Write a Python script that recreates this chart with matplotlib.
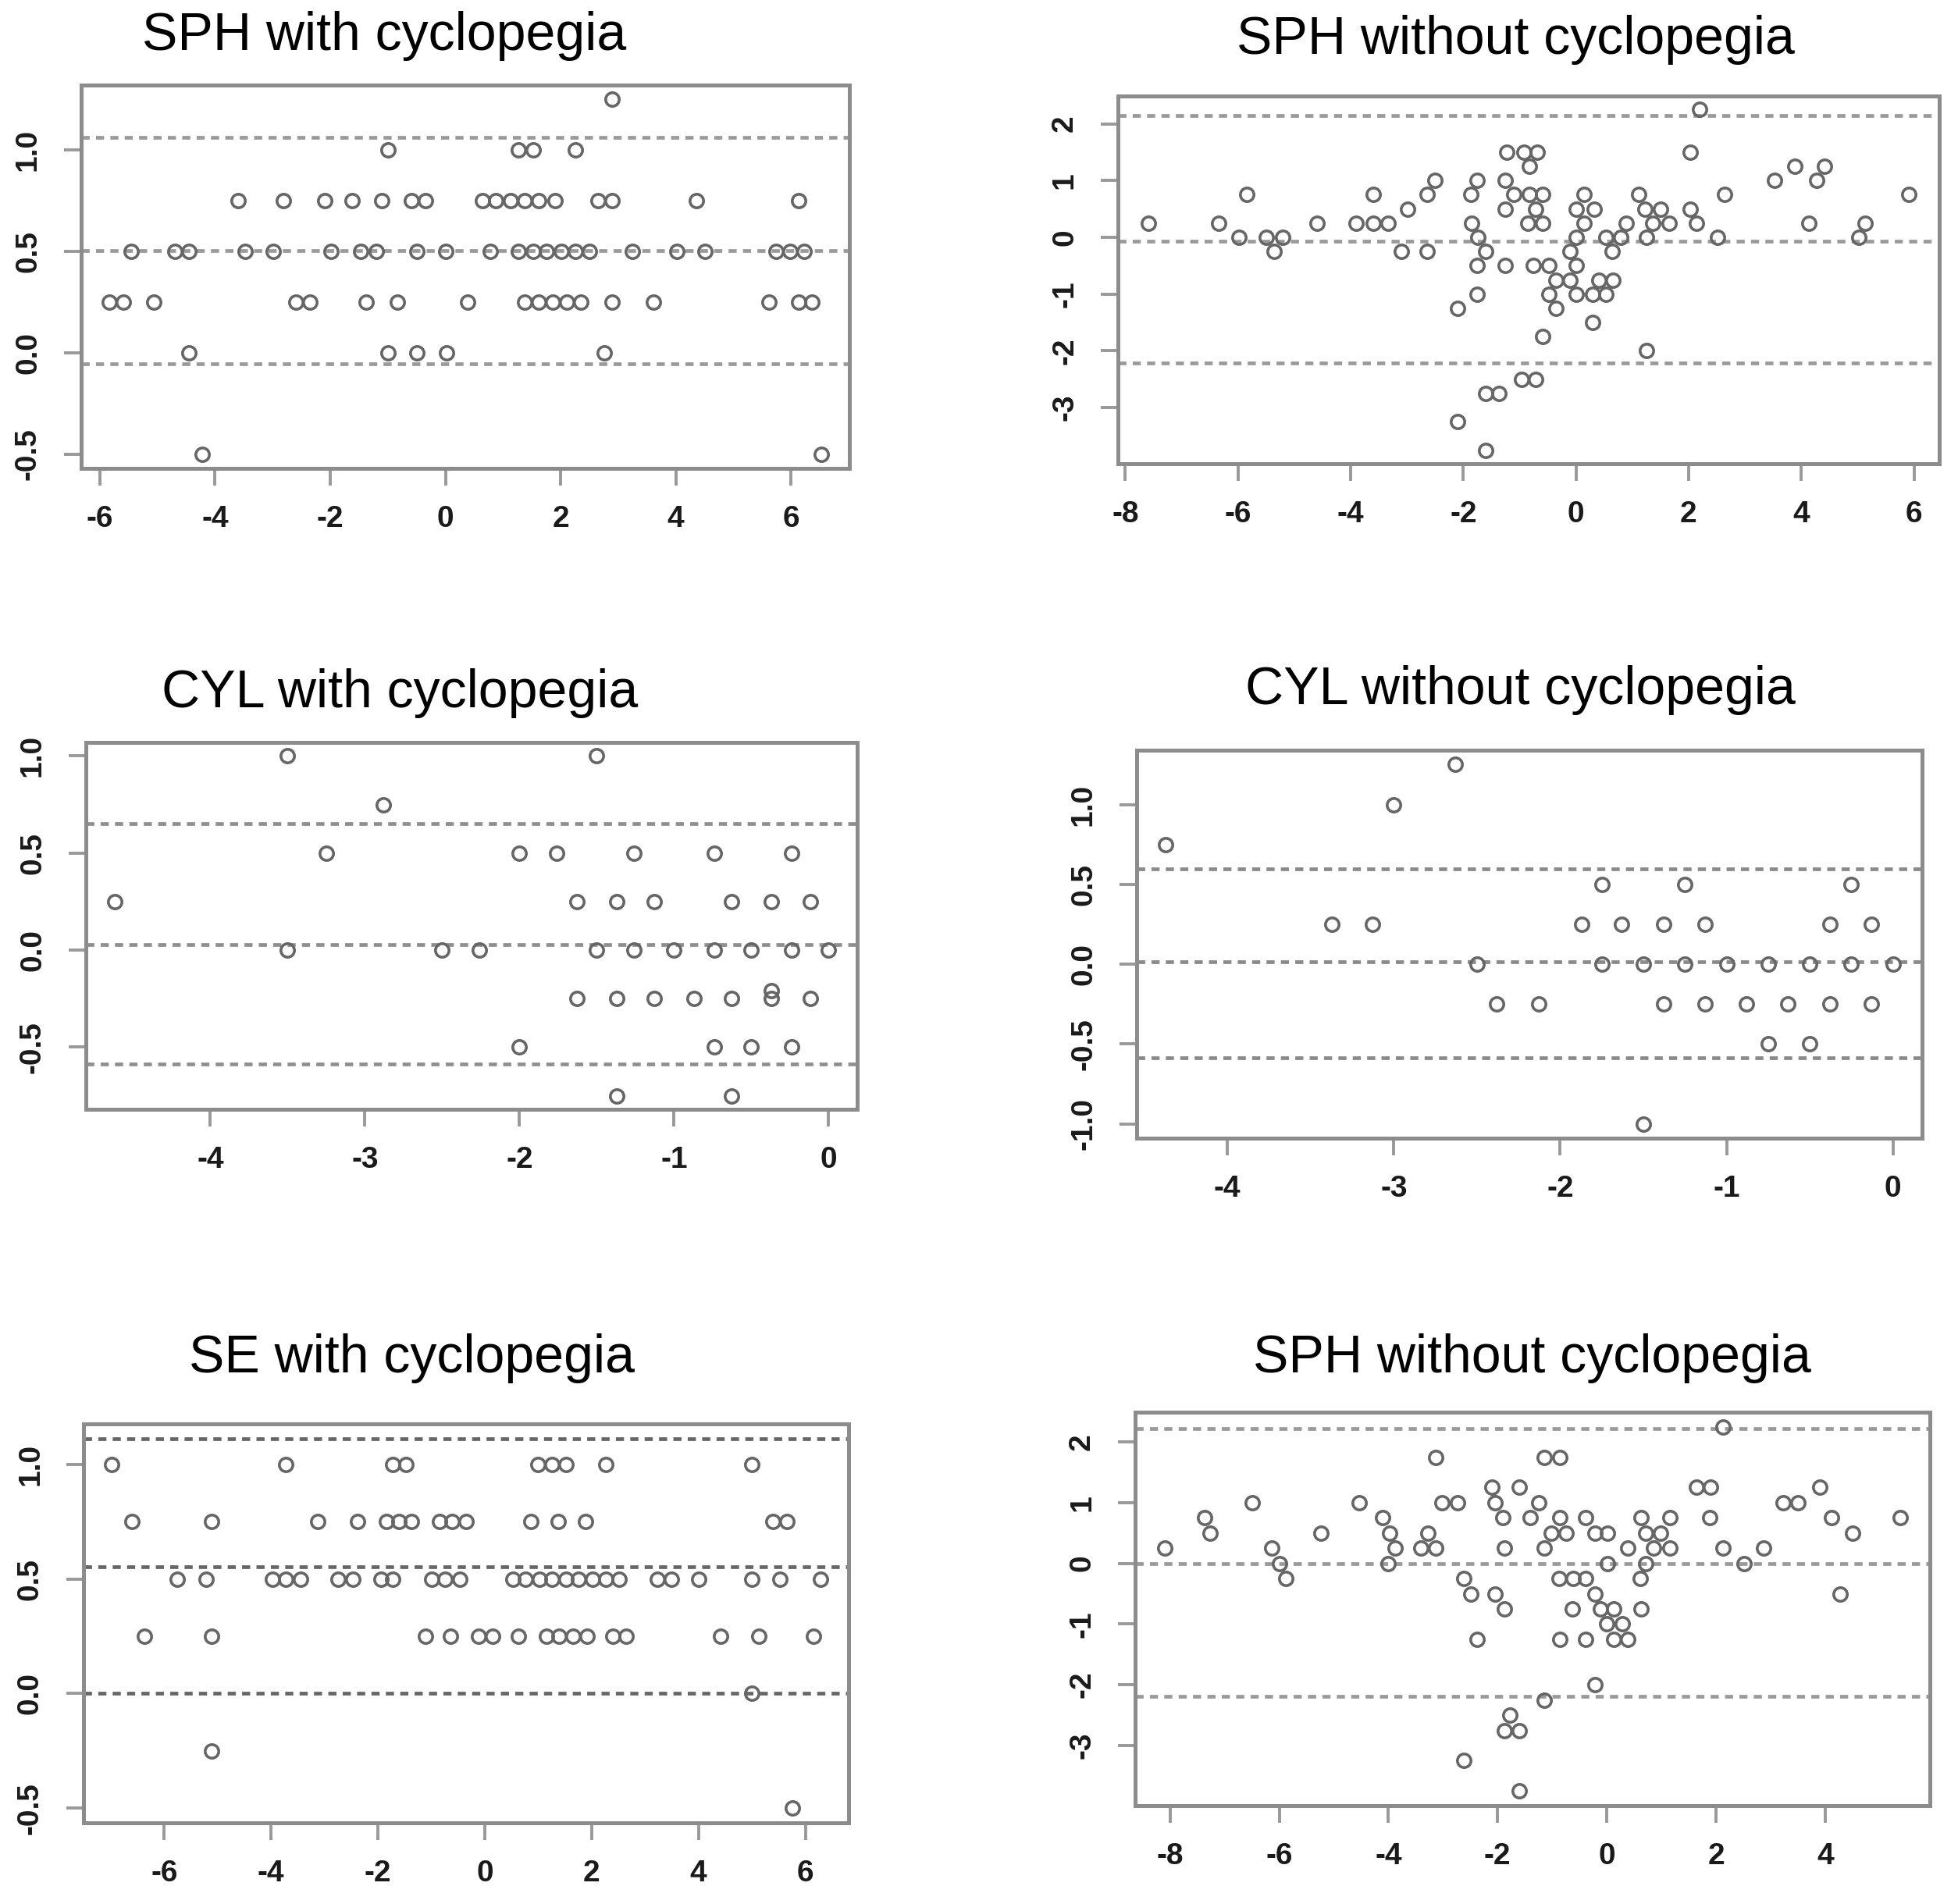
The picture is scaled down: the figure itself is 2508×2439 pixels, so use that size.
import numpy as np
import matplotlib
matplotlib.use("Agg")
import matplotlib.pyplot as plt

plt.rcParams['font.family'] = ['Liberation Sans', 'DejaVu Sans']
plt.rcParams['axes.unicode_minus'] = False

W, H = 2508, 2439

# ---- data, points grouped by their difference level ----
sph_cyc_levels = [1.25, 1.0, 0.75, 0.5, 0.25, 0.0, -0.5]
sph_cyc_rows = [
    [2.9],
    [-1.0, 1.27, 1.52, 2.25],
    [-3.6, -2.82, -2.1, -1.62, -1.1, -0.59, -0.34, 0.64, 0.88, 1.13, 1.37, 1.62, 1.91, 2.65, 2.9, 4.36, 6.13],
    [-5.46, -4.7, -4.46, -3.48, -2.99, -1.98, -1.47, -1.2, -0.49, 0.0, 0.78, 1.27, 1.52, 1.76, 2.01, 2.25, 2.5,
     3.24, 4.02, 4.51, 5.74, 5.98, 6.23],
    [-5.83, -5.59, -5.07, -2.6, -2.35, -1.37, -0.83, 0.39, 1.37, 1.62, 1.86, 2.11, 2.35, 2.9, 3.61, 5.62, 6.13, 6.37],
    [-4.46, -1.0, -0.49, 0.02, 2.76],
    [-4.22, 6.52],
]
sph_cyc_lines = [1.064, 0.504, -0.056]

sph_nocyc_levels = [2.25, 1.5, 1.25, 1.0, 0.75, 0.5, 0.25, 0.0, -0.25, -0.5, -0.75, -1.0, -1.25, -1.5, -1.75,
                    -2.0, -2.5, -2.75, -3.25, -3.75]
sph_nocyc_rows = [
    [2.19],
    [-1.23, -0.93, -0.69, 2.03],
    [-0.83, 3.88, 4.41],
    [-2.51, -1.76, -1.25, 3.52, 4.27],
    [-5.84, -3.6, -2.64, -1.87, -1.10, -0.83, -0.59, 0.14, 1.12, 2.64, 5.91],
    [-2.99, -1.25, -0.72, 0.0, 0.32, 1.23, 1.5, 2.03],
    [-7.59, -6.34, -4.59, -3.9, -3.6, -3.34, -1.85, -0.85, -0.59, 0.14, 0.89, 1.36, 1.66, 2.14, 4.13, 5.13],
    [-5.98, -5.5, -5.2, -1.74, 0.0, 0.53, 0.8, 1.25, 2.51, 5.02],
    [-5.36, -3.1, -2.64, -1.6, -0.11, 0.64],
    [-1.76, -1.25, -0.75, -0.48, 0.0],
    [-0.35, -0.11, 0.41, 0.66],
    [-1.76, -0.48, 0.0, 0.29, 0.53],
    [-2.1, -0.35],
    [0.29],
    [-0.59],
    [1.25],
    [-0.96, -0.72],
    [-1.6, -1.36],
    [-2.1],
    [-1.6],
]
sph_nocyc_lines = [2.14, -0.07, -2.22]

cyl_cyc_levels = [1.0, 0.75, 0.5, 0.25, 0.0, -0.21, -0.25, -0.5, -0.75]
cyl_cyc_rows = [
    [-3.5, -1.5],
    [-2.88],
    [-3.25, -2.0, -1.76, -1.26, -0.74, -0.24],
    [-4.62, -1.63, -1.37, -1.13, -0.63, -0.37, -0.12],
    [-3.5, -2.5, -2.26, -1.5, -1.26, -1.0, -0.74, -0.5, -0.24, 0.0],
    [-0.37],
    [-1.63, -1.37, -1.13, -0.87, -0.63, -0.37, -0.12],
    [-2.0, -0.74, -0.5, -0.24],
    [-1.37, -0.63],
]
cyl_cyc_lines = [0.652, 0.029, -0.587]

cyl_nocyc_levels = [1.25, 1.0, 0.75, 0.5, 0.25, 0.0, -0.25, -0.5, -1.0]
cyl_nocyc_rows = [
    [-2.63],
    [-3.0],
    [-4.37],
    [-1.75, -1.25, -0.25],
    [-3.37, -3.13, -1.87, -1.63, -1.38, -1.13, -0.38, -0.13],
    [-2.5, -1.75, -1.5, -1.25, -1.0, -0.75, -0.5, -0.25, 0.0],
    [-2.38, -2.13, -1.38, -1.13, -0.88, -0.63, -0.38, -0.13],
    [-0.75, -0.5],
    [-1.5],
]
cyl_nocyc_lines = [0.597, 0.014, -0.585]

se_cyc_levels = [1.0, 0.75, 0.5, 0.25, 0.0, -0.25, -0.5]
se_cyc_rows = [
    [-6.98, -3.72, -1.72, -1.48, 1.0, 1.26, 1.52, 2.26, 5.0],
    [-6.61, -5.11, -3.12, -2.38, -1.84, -1.61, -1.37, -0.85, -0.61, -0.35, 0.86, 1.37, 1.88, 5.39, 5.65],
    [-5.76, -5.21, -3.98, -3.72, -3.45, -2.74, -2.47, -1.95, -1.72, -1.0, -0.74, -0.47, 0.53, 0.76, 1.02, 1.26,
     1.52, 1.76, 2.02, 2.26, 2.52, 3.23, 3.49, 4.0, 5.0, 5.52, 6.28],
    [-6.37, -5.11, -1.11, -0.64, -0.12, 0.15, 0.63, 1.15, 1.39, 1.65, 1.92, 2.39, 2.65, 4.41, 5.13, 6.15],
    [5.0],
    [-5.11],
    [5.76],
]
se_cyc_lines = [1.112, 0.554, 0.0]

sph_nocyc2_levels = [2.25, 1.75, 1.25, 1.0, 0.75, 0.5, 0.25, 0.0, -0.25, -0.5, -0.75, -1.0, -1.25, -2.0,
                     -2.25, -2.5, -2.75, -3.25, -3.75]
sph_nocyc2_rows = [
    [2.13],
    [-3.13, -1.14, -0.86],
    [-2.11, -1.6, 1.64, 1.9, 3.9],
    [-6.49, -4.53, -3.02, -2.73, -2.05, -1.24, 3.23, 3.5],
    [-7.37, -4.11, -1.91, -1.41, -0.86, -0.39, 0.63, 1.16, 1.88, 4.12, 5.38],
    [-7.26, -5.23, -3.98, -3.28, -1.02, -0.75, -0.22, 0.02, 0.72, 0.99, 4.5],
    [-8.1, -6.13, -3.87, -3.4, -3.13, -1.88, -1.14, 0.39, 0.85, 1.16, 2.13, 2.87],
    [-5.99, -4.0, 0.02, 0.72, 2.52],
    [-5.88, -2.62, -0.88, -0.61, -0.39, 0.61],
    [-2.49, -2.05, -0.22, 4.28],
    [-1.88, -0.63, -0.11, 0.13, 0.63],
    [0.0, 0.28],
    [-2.38, -0.86, -0.39, 0.13, 0.39],
    [-0.22],
    [-1.14],
    [-1.77],
    [-1.88, -1.6],
    [-2.62],
    [-1.6],
]
sph_nocyc2_lines = [2.22, 0.0, -2.19]

titles = ["SPH with cyclopegia", "SPH without cyclopegia", "CYL with cyclopegia",
          "CYL without cyclopegia", "SE with cyclopegia", "SPH without cyclopegia"]
x_ticks = [[-6, -4, -2, 0, 2, 4, 6], [-8, -6, -4, -2, 0, 2, 4, 6], [-4, -3, -2, -1, 0],
           [-4, -3, -2, -1, 0], [-6, -4, -2, 0, 2, 4, 6], [-8, -6, -4, -2, 0, 2, 4]]
y_ticks = [[-0.5, 0.0, 0.5, 1.0], [-3, -2, -1, 0, 1, 2], [-0.5, 0.0, 0.5, 1.0],
           [-1.0, -0.5, 0.0, 0.5, 1.0], [-0.5, 0.0, 0.5, 1.0], [-3, -2, -1, 0, 1, 2]]
y_fmt = ["%.1f", "%d", "%.1f", "%.1f", "%.1f", "%d"]

panels = [
    (sph_cyc_levels, sph_cyc_rows, sph_cyc_lines),
    (sph_nocyc_levels, sph_nocyc_rows, sph_nocyc_lines),
    (cyl_cyc_levels, cyl_cyc_rows, cyl_cyc_lines),
    (cyl_nocyc_levels, cyl_nocyc_rows, cyl_nocyc_lines),
    (se_cyc_levels, se_cyc_rows, se_cyc_lines),
    (sph_nocyc2_levels, sph_nocyc2_rows, sph_nocyc2_lines),
]

# ---- layout (pixel boxes of each plot region: left, top, right, bottom) ----
boxes = [(104, 109, 1088, 600), (1432, 123, 2484, 594),
         (110, 951, 1098, 1421), (1456, 961, 2462, 1458),
         (107, 1824, 1087, 2335), (1454, 1809, 2472, 2313)]
title_pos = [(492, 64), (1941, 69), (512, 906), (1947, 902), (528, 1758), (1962, 1758)]
line_cols = ["#9a9a9a", "#9a9a9a", "#8f8f8f", "#8a8a8a", "#666666", "#9a9a9a"]

fig = plt.figure(figsize=(W / 100, H / 100), dpi=100)

for i, (levels, rows, lines) in enumerate(panels):
    l, t, r, b = boxes[i]
    ax = fig.add_axes([l / W, 1 - b / H, (r - l) / W, (b - t) / H])

    xs = np.concatenate([np.array(row, dtype=float) for row in rows])
    ys = np.repeat(levels, [len(row) for row in rows])

    for v in lines:
        ax.axhline(v, color=line_cols[i], lw=3.4, linestyle=(0, (2.2, 1.7)), zorder=1)
    ax.plot(xs, ys, 'o', ms=12.5, mfc='none', mec='#666666', mew=2.6, zorder=2)

    # R style 4% padding around data (and the limit lines)
    x0, x1 = xs.min(), xs.max()
    y0, y1 = min(ys.min(), min(lines)), max(ys.max(), max(lines))
    ax.set_xlim(x0 - 0.04 * (x1 - x0), x1 + 0.04 * (x1 - x0))
    ax.set_ylim(y0 - 0.04 * (y1 - y0), y1 + 0.04 * (y1 - y0))

    ax.set_xticks(x_ticks[i])
    ax.set_xticklabels([str(v) for v in x_ticks[i]], fontweight='bold')
    ax.set_yticks(y_ticks[i])
    ax.set_yticklabels([y_fmt[i] % v for v in y_ticks[i]], fontweight='bold')
    ax.tick_params(axis='both', direction='out', length=16, width=2.8, color='#999999',
                   labelsize=28, labelcolor='#1a1a1a')
    ax.tick_params(axis='x', pad=18)
    ax.tick_params(axis='y', pad=20, labelrotation=90)
    for lab in ax.get_yticklabels():
        lab.set_va('center')

    for s in ax.spines.values():
        s.set_color('#8c8c8c')
        s.set_linewidth(3.6)

    fig.text(title_pos[i][0] / W, 1 - title_pos[i][1] / H, titles[i], fontsize=49,
             ha='center', va='baseline', color='black')

fig.savefig("out.png", dpi=100)
